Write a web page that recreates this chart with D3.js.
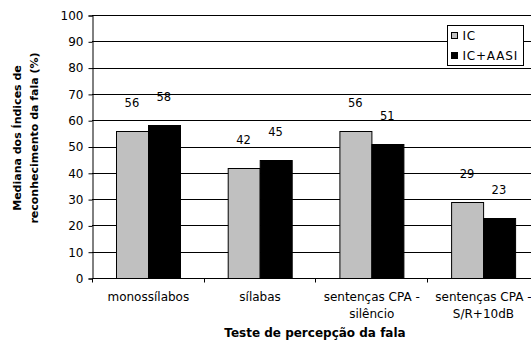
<!DOCTYPE html>
<html>
<head>
<meta charset="utf-8">
<script src="https://cdn.jsdelivr.net/npm/d3@7"></script>
<style>
  body { margin: 0; background: #fff; }
  svg { display: block; font-family: "DejaVu Sans", Verdana, sans-serif; }
</style>
</head>
<body>
<div id="chart"></div>
<script>
const categories = [
  ["monossílabos"],
  ["sílabas"],
  ["sentenças CPA -", "silêncio"],
  ["sentenças CPA -", "S/R+10dB"]
];
const seriesNames = ["IC", "IC+AASI"];
const icValues = [56, 42, 56, 29];
const icAasiValues = [58, 45, 51, 23];
const yTicks = [0, 10, 20, 30, 40, 50, 60, 70, 80, 90, 100];
const seriesColors = ["#c0c0c0", "#000000"];

const width = 531, height = 340;
const margin = { left: 92, top: 15, bottom: 62 };
const step = 111.7;

const svg = d3.select("#chart").append("svg")
  .attr("width", width)
  .attr("height", height);

const y = d3.scaleLinear().domain([0, 100]).range([height - margin.bottom, margin.top]);
const x = d3.scaleBand()
  .domain(d3.range(categories.length))
  .range([margin.left, margin.left + step * categories.length])
  .padding(0);
const xSub = d3.scaleBand()
  .domain(seriesNames)
  .range([0, x.bandwidth()])
  .paddingInner(0)
  .paddingOuter(0.75);

const rows = categories.map((c, i) => ({ i, values: [icValues[i], icAasiValues[i]] }));

// grid lines
svg.append("g")
  .selectAll("line")
  .data(yTicks.filter(d => d > 0))
  .enter().append("line")
  .attr("x1", margin.left)
  .attr("x2", width)
  .attr("y1", d => Math.round(y(d)) + 0.5)
  .attr("y2", d => Math.round(y(d)) + 0.5)
  .attr("stroke", "#000")
  .attr("stroke-width", 1);

// bars
const groups = svg.append("g")
  .selectAll("g")
  .data(rows)
  .enter().append("g")
  .attr("transform", d => `translate(${x(d.i)},0)`);

groups.selectAll("rect")
  .data(d => d.values.map((v, k) => ({ v, k })))
  .enter().append("rect")
  .attr("x", d => Math.round(xSub(seriesNames[d.k])) + 0.5)
  .attr("y", d => Math.round(y(d.v)) + 0.5)
  .attr("width", Math.round(xSub.bandwidth()))
  .attr("height", d => Math.round(y(0)) - Math.round(y(d.v)))
  .attr("fill", d => seriesColors[d.k])
  .attr("stroke", "#000")
  .attr("stroke-width", 1);

// value labels
groups.selectAll("text")
  .data(d => d.values.map((v, k) => ({ v, k })))
  .enter().append("text")
  .attr("x", d => xSub(seriesNames[d.k]) + xSub.bandwidth() / 2)
  .attr("y", d => y(d.v) - 24)
  .attr("text-anchor", "middle")
  .style("font-size", "11.5px")
  .text(d => d.v);

// y axis
const yAxis = d3.axisLeft(y).tickValues(yTicks).tickSize(4).tickPadding(5);
const gy = svg.append("g")
  .attr("transform", `translate(${margin.left + 0.5},0.5)`)
  .call(yAxis);
gy.select(".domain").attr("stroke", "#000");
gy.selectAll("text").style("font-size", "12px").style("font-family", "DejaVu Sans").attr("fill", "#000");

// x axis
const gx = svg.append("g")
  .attr("transform", `translate(0.5,${Math.round(y(0)) + 0.5})`);
gx.append("line")
  .attr("x1", margin.left).attr("x2", width)
  .attr("stroke", "#000");
gx.selectAll(".tick")
  .data(d3.range(categories.length + 1))
  .enter().append("line")
  .attr("x1", d => Math.round(margin.left + step * d))
  .attr("x2", d => Math.round(margin.left + step * d))
  .attr("y1", 0).attr("y2", 4)
  .attr("stroke", "#000");

const catLabels = gx.selectAll("text")
  .data(categories)
  .enter().append("text")
  .attr("x", (d, i) => x(i) + x.bandwidth() / 2)
  .attr("y", 22)
  .attr("text-anchor", "middle")
  .style("font-size", "12px");
catLabels.selectAll("tspan")
  .data(d => d)
  .enter().append("tspan")
  .attr("x", function () { return d3.select(this.parentNode).attr("x"); })
  .attr("dy", (d, i) => i === 0 ? 0 : 17)
  .text(d => d);

// axis titles
svg.append("text")
  .attr("x", 315)
  .attr("y", 337)
  .attr("text-anchor", "middle")
  .style("font-size", "12px")
  .style("font-weight", "bold")
  .text("Teste de percepção da fala");

const yTitle = svg.append("text")
  .attr("transform", "translate(0,138) rotate(-90)")
  .attr("text-anchor", "middle")
  .style("font-size", "11px")
  .style("font-weight", "bold");
yTitle.append("tspan").attr("x", 0).attr("y", 21).text("Mediana dos Índices de");
yTitle.append("tspan").attr("x", 0).attr("y", 38).text("reconhecimento da fala (%)");

// legend
const legend = svg.append("g").attr("transform", "translate(447.5,25.5)");
legend.append("rect")
  .attr("width", 76).attr("height", 40)
  .attr("fill", "#fff").attr("stroke", "#000");
const items = legend.selectAll("g")
  .data(seriesNames)
  .enter().append("g")
  .attr("transform", (d, i) => `translate(4,${10 + i * 20})`);
items.append("rect")
  .attr("x", 0).attr("y", -3)
  .attr("width", 6).attr("height", 6)
  .attr("fill", (d, i) => seriesColors[i])
  .attr("stroke", "#000");
items.append("text")
  .attr("x", 11).attr("y", 4)
  .style("font-size", "12px")
  .style("letter-spacing", "0.8px")
  .text(d => d);
</script>
</body>
</html>
